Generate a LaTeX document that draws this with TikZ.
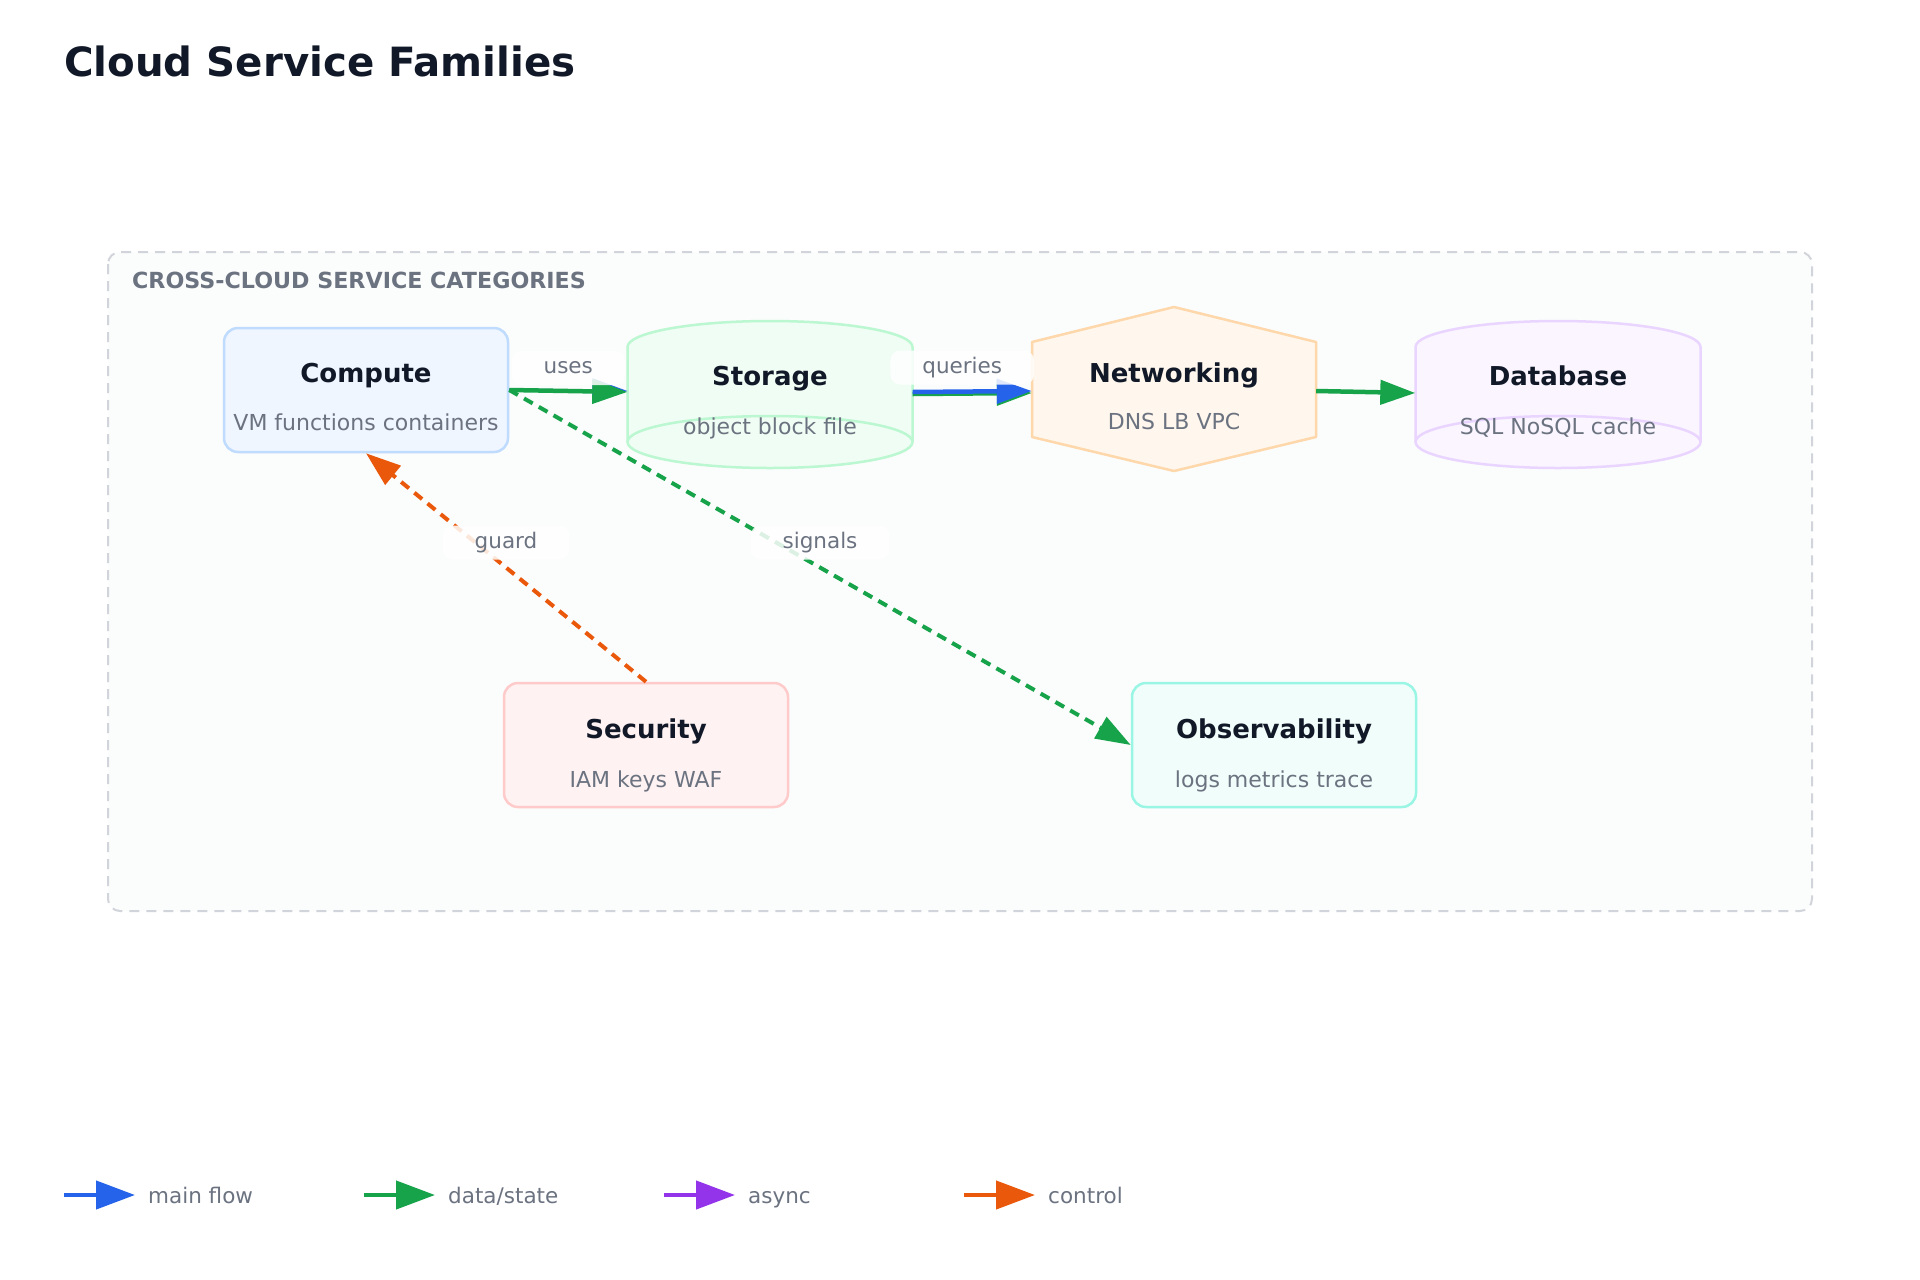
\documentclass[tikz,border=0pt]{standalone}
\usepackage{fontspec}
\setmainfont{DejaVu Sans}
\usepackage{tikz}
\usetikzlibrary{arrows.meta,calc,positioning}
\definecolor{ink}{HTML}{111827}
\definecolor{mute}{HTML}{6B7280}
\definecolor{frame}{HTML}{D1D5DB}
\definecolor{panel}{HTML}{FBFCFC}
\definecolor{cmpfill}{HTML}{EFF6FF}\definecolor{cmpline}{HTML}{BFDBFE}
\definecolor{stofill}{HTML}{F0FDF4}\definecolor{stoline}{HTML}{BBF7D0}
\definecolor{netfill}{HTML}{FFF7ED}\definecolor{netline}{HTML}{FED7AA}
\definecolor{dbfill}{HTML}{FAF5FF}\definecolor{dbline}{HTML}{E9D5FF}
\definecolor{secfill}{HTML}{FEF2F2}\definecolor{secline}{HTML}{FECACA}
\definecolor{obsfill}{HTML}{F0FDFA}\definecolor{obsline}{HTML}{99F6E4}
\definecolor{flowblue}{HTML}{2563EB}
\definecolor{flowgreen}{HTML}{16A34A}
\definecolor{flowpurple}{HTML}{9333EA}
\definecolor{floworange}{HTML}{EA580C}
\tikzset{card/.style={rectangle,rounded corners=14pt,line width=2.5pt,minimum width=284pt,minimum height=124pt},
  ghost/.style={inner sep=0pt,minimum width=285pt,minimum height=147pt},
  ttl/.style={anchor=base,text=ink,inner sep=0pt,font=\fontsize{26}{30}\selectfont\bfseries},
  sub/.style={anchor=base,text=mute,inner sep=0pt,font=\fontsize{22}{26}\selectfont},
  elabel/.style={text=mute,font=\fontsize{21.5}{26}\selectfont,fill=white,fill opacity=0.85,text opacity=1,rounded corners=10pt,inner xsep=32pt,minimum height=34pt},
  solidfl/.style={-{Triangle[length=35pt,width=24pt]},line width=4.5pt},
  dashfl/.style={-{Triangle[length=35pt,width=24pt]},line width=4pt,dash pattern=on 10pt off 7pt},
  legfl/.style={-{Triangle[length=39pt,width=28pt]},line width=4.3pt,shorten >=13pt},
  legtxt/.style={anchor=west,inner sep=0pt,text height=19pt,text depth=3pt,text=mute,font=\fontsize{21.5}{26}\selectfont}}

\begin{document}
\begin{tikzpicture}[x=1pt,y=-1pt,line join=round]
\useasboundingbox (0,0) rectangle (1920,1280);
\fill[white] (0,0) rectangle (1920,1280);
\node[anchor=west,inner sep=0pt,text=ink,font=\fontsize{40.3}{46}\selectfont\bfseries] (title) at (64,61) {Cloud Service Families};
% --- group frame
\draw[frame,fill=panel,line width=2pt,dash pattern=on 10pt off 7pt,rounded corners=12pt] (108,252) rectangle (1812,911);
\node[anchor=west,inner sep=0pt,text=mute,font=\fontsize{22.2}{26}\selectfont\bfseries] (grouplbl) at (132,280) {CROSS-CLOUD SERVICE CATEGORIES};
% --- top row
\node[card,draw=cmpline,fill=cmpfill] (compute) at (366,390) {};
\node[ttl] at ([yshift=8pt]compute.center) {Compute};
\node[sub] at ([yshift=-40pt]compute.center) {VM functions containers};
\filldraw[stoline,fill=stofill,line width=2.5pt] (627.5,347) arc[start angle=180,end angle=360,x radius=142.5,y radius=26] -- (912.5,442) arc[start angle=0,end angle=180,x radius=142.5,y radius=26] -- cycle;
\draw[stoline,line width=2.5pt] (627.5,442) arc[start angle=180,end angle=360,x radius=142.5,y radius=26];
\node[ghost] (storage) at (770,392) {};
\node[ttl] at (770,385.5) {Storage};
\node[sub] at (770,434.5) {object block file};
\filldraw[netline,fill=netfill,line width=2.5pt] (1174,307) -- (1316,342) -- (1316,437) -- (1174,471) -- (1032,437) -- (1032,342) -- cycle;
\node[inner sep=0pt,minimum width=284pt,minimum height=164pt] (networking) at (1174,391) {};
\node[ttl] at (1174,382) {Networking};
\node[sub] at (1174,429.5) {DNS LB VPC};
\filldraw[dbline,fill=dbfill,line width=2.5pt] (1415.5,347) arc[start angle=180,end angle=360,x radius=142.5,y radius=26] -- (1700.5,442) arc[start angle=0,end angle=180,x radius=142.5,y radius=26] -- cycle;
\draw[dbline,line width=2.5pt] (1415.5,442) arc[start angle=180,end angle=360,x radius=142.5,y radius=26];
\node[ghost] (database) at (1558,393) {};
\node[ttl] at (1558,385.5) {Database};
\node[sub] at (1558,434.5) {SQL NoSQL cache};
% --- bottom row
\node[card,draw=secline,fill=secfill] (security) at (646,745) {};
\node[ttl] at ([yshift=7pt]security.center) {Security};
\node[sub] at ([yshift=-42pt]security.center) {IAM keys WAF};
\node[card,draw=obsline,fill=obsfill] (observability) at (1274,745) {};
\node[ttl] at ([yshift=7pt]observability.center) {Observability};
\node[sub] at ([yshift=-42pt]observability.center) {logs metrics trace};
% --- edges
\draw[solidfl,flowblue,line width=1.5pt] ([yshift=1pt]compute.east) -- ([yshift=1pt]storage.west);
\draw[solidfl,flowgreen] (compute.east) -- (storage.west) node[elabel,midway,yshift=23pt] {uses};
\draw[solidfl,flowgreen] ([yshift=-2pt]storage.east) -- ([yshift=-2pt]networking.west);
\draw[solidfl,flowblue] (storage.east) -- (networking.west) node[elabel,midway,xshift=-10pt,yshift=24pt] {queries};
\draw[solidfl,flowgreen] (networking.east) -- (database.west);
\draw[dashfl,flowgreen] (compute.east) -- (observability.west) node[elabel,midway,yshift=25pt] {signals};
\draw[dashfl,floworange] (security.north) -- (compute.south) node[elabel,midway,yshift=25pt] {guard};
% --- legend
\coordinate (lgmain) at (64,1195); \node[legtxt] (lgmaintx) at (148,1195) {main flow};
\draw[legfl,flowblue] (lgmain) -- (lgmaintx.west);
\coordinate (lgdata) at (364,1195); \node[legtxt] (lgdatatx) at (448,1195) {data/state};
\draw[legfl,flowgreen] (lgdata) -- (lgdatatx.west);
\coordinate (lgasync) at (664,1195); \node[legtxt] (lgasynctx) at (748,1195) {async};
\draw[legfl,flowpurple] (lgasync) -- (lgasynctx.west);
\coordinate (lgctrl) at (964,1195); \node[legtxt] (lgctrltx) at (1048,1195) {control};
\draw[legfl,floworange] (lgctrl) -- (lgctrltx.west);
\end{tikzpicture}
\end{document}
